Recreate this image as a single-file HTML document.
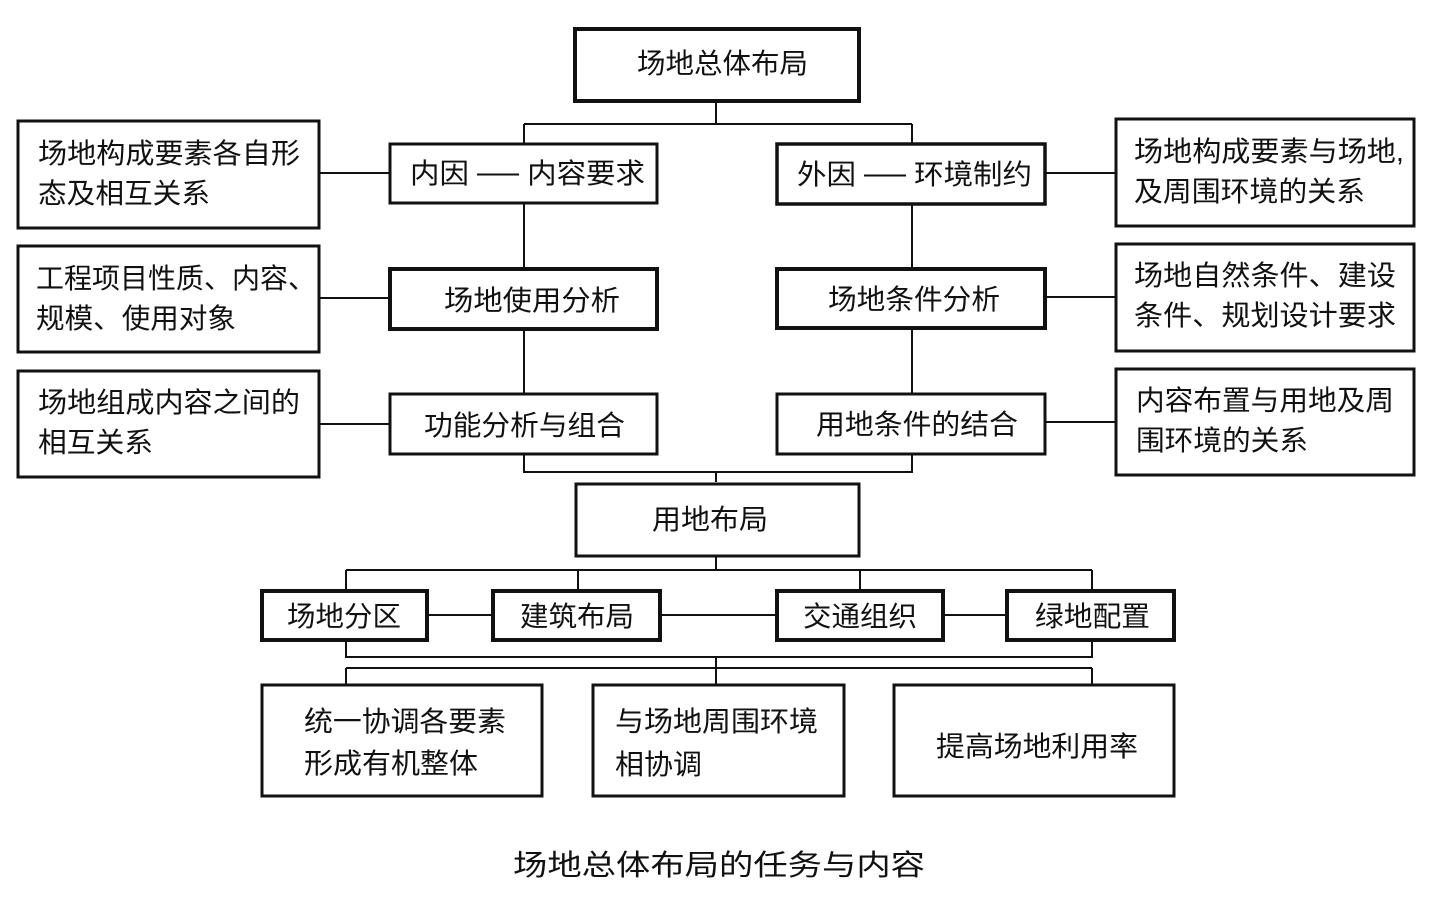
<!DOCTYPE html>
<html><head><meta charset="utf-8"><style>
html,body{margin:0;padding:0;background:#fff;}
svg{display:block;}
text{font-family:"Liberation Sans","Noto Sans CJK SC","WenQuanYi Zen Hei",sans-serif;fill:#111;font-size:28px;}
</style></head><body>
<svg width="1436" height="900" viewBox="0 0 1436 900" xmlns="http://www.w3.org/2000/svg">
<g fill="none" stroke="#111">
<g stroke-width="2">
<path d="M716 102V124M524 124H912M524 124V143M912 124V143"/>
<path d="M524 204V267M524 330V393M912 205V267M912 329V393"/>
<path d="M524 455V472H912V455M716 472V482"/>
<path d="M320 173H389M320 298H389M320 424H389M1046 173H1115M1046 297H1115M1046 422H1115"/>
<path d="M716 557V570M346 570H1092M346 570V590M578 570V590M860 570V590M1092 570V590"/>
<path d="M428 615H492M661 615H776M944 615H1006"/>
<path d="M346 641V657H1092V641M716 657V684M346 668H1092M346 668V684M1092 668V684"/>
</g>
<rect x="575" y="29" width="284" height="72" stroke-width="4"/>
<rect x="390" y="144" width="267" height="59" stroke-width="3"/>
<rect x="390" y="269" width="267" height="60" stroke-width="4"/>
<rect x="390" y="394" width="267" height="60" stroke-width="3"/>
<rect x="777" y="144" width="268" height="60" stroke-width="3.5"/>
<rect x="777" y="269" width="268" height="59" stroke-width="4"/>
<rect x="777" y="394" width="268" height="60" stroke-width="3"/>
<rect x="18" y="121" width="301" height="107" stroke-width="3"/>
<rect x="18" y="246" width="301" height="106" stroke-width="3"/>
<rect x="18" y="371" width="301" height="106" stroke-width="3"/>
<rect x="1116" y="119" width="298" height="107" stroke-width="3"/>
<rect x="1116" y="244" width="298" height="107" stroke-width="3"/>
<rect x="1116" y="369" width="298" height="106" stroke-width="3"/>
<rect x="576" y="484" width="283" height="72" stroke-width="3"/>
<rect x="262" y="591" width="165" height="49" stroke-width="4"/>
<rect x="493" y="591" width="167" height="49" stroke-width="4"/>
<rect x="777" y="591" width="166" height="49" stroke-width="4"/>
<rect x="1007" y="591" width="167" height="49" stroke-width="4"/>
<rect x="262" y="685" width="280" height="111" stroke-width="3"/>
<rect x="593" y="685" width="251" height="111" stroke-width="3"/>
<rect x="894" y="685" width="280" height="111" stroke-width="3"/>
</g>
<g lengthAdjust="spacingAndGlyphs">
<text x="637" y="73" textLength="171" lengthAdjust="spacingAndGlyphs">场地总体布局</text>
<text x="410" y="183" textLength="235" lengthAdjust="spacingAndGlyphs">内因 ── 内容要求</text>
<text x="444" y="310" textLength="176" lengthAdjust="spacingAndGlyphs">场地使用分析</text>
<text x="424" y="435" textLength="201" lengthAdjust="spacingAndGlyphs">功能分析与组合</text>
<text x="797" y="184" textLength="235" lengthAdjust="spacingAndGlyphs">外因 ── 环境制约</text>
<text x="828" y="309" textLength="172" lengthAdjust="spacingAndGlyphs">场地条件分析</text>
<text x="816" y="434" textLength="202" lengthAdjust="spacingAndGlyphs">用地条件的结合</text>
<text x="38" y="163" textLength="262" lengthAdjust="spacingAndGlyphs">场地构成要素各自形</text>
<text x="38" y="203" textLength="172" lengthAdjust="spacingAndGlyphs">态及相互关系</text>
<text x="36" y="288" textLength="280" lengthAdjust="spacingAndGlyphs">工程项目性质、内容、</text>
<text x="36" y="328" textLength="200" lengthAdjust="spacingAndGlyphs">规模、使用对象</text>
<text x="38" y="412" textLength="262" lengthAdjust="spacingAndGlyphs">场地组成内容之间的</text>
<text x="38" y="452" textLength="115" lengthAdjust="spacingAndGlyphs">相互关系</text>
<text x="1134" y="161" textLength="270" lengthAdjust="spacingAndGlyphs">场地构成要素与场地,</text>
<text x="1134" y="201" textLength="231" lengthAdjust="spacingAndGlyphs">及周围环境的关系</text>
<text x="1134" y="285" textLength="262" lengthAdjust="spacingAndGlyphs">场地自然条件、建设</text>
<text x="1134" y="325" textLength="262" lengthAdjust="spacingAndGlyphs">条件、规划设计要求</text>
<text x="1136" y="410" textLength="258" lengthAdjust="spacingAndGlyphs">内容布置与用地及周</text>
<text x="1136" y="450" textLength="172" lengthAdjust="spacingAndGlyphs">围环境的关系</text>
<text x="652" y="529" textLength="116" lengthAdjust="spacingAndGlyphs">用地布局</text>
<text x="287" y="626" textLength="114" lengthAdjust="spacingAndGlyphs">场地分区</text>
<text x="520" y="626" textLength="114" lengthAdjust="spacingAndGlyphs">建筑布局</text>
<text x="803" y="626" textLength="114" lengthAdjust="spacingAndGlyphs">交通组织</text>
<text x="1035" y="626" textLength="115" lengthAdjust="spacingAndGlyphs">绿地配置</text>
<text x="304" y="731" textLength="202" lengthAdjust="spacingAndGlyphs">统一协调各要素</text>
<text x="304" y="773" textLength="174" lengthAdjust="spacingAndGlyphs">形成有机整体</text>
<text x="615" y="731" textLength="203" lengthAdjust="spacingAndGlyphs">与场地周围环境</text>
<text x="615" y="774" textLength="87" lengthAdjust="spacingAndGlyphs">相协调</text>
<text x="936" y="756" textLength="202" lengthAdjust="spacingAndGlyphs">提高场地利用率</text>
<text x="513" y="875" textLength="412" lengthAdjust="spacingAndGlyphs" style="font-size:29px">场地总体布局的任务与内容</text>
</g>
</svg>
</body></html>
